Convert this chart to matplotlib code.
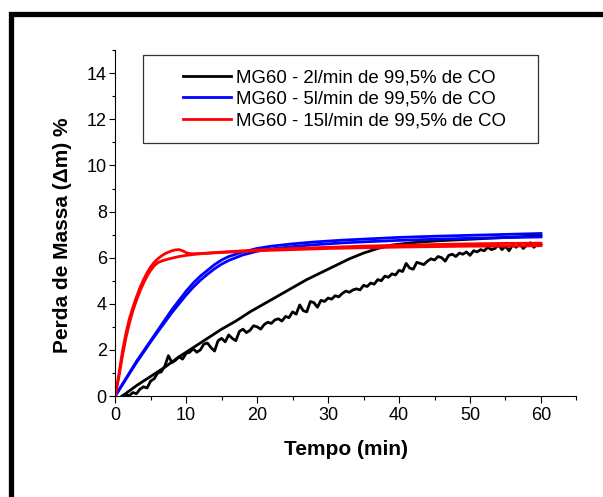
import matplotlib.pyplot as plt
from matplotlib.patches import Rectangle
from matplotlib.ticker import MultipleLocator
import numpy as np

plt.rcParams['font.family'] = ['Liberation Sans', 'DejaVu Sans']

# MG60 - 2 l/min: smooth run
t_2a = [1, 3, 5, 7, 9, 11, 13, 15, 17, 19, 21, 23, 25, 27, 29, 31, 33, 35, 37,
        39, 41, 43, 46, 50, 55, 60]
m_2a = [0.0, 0.45, 0.85, 1.25, 1.7, 2.1, 2.5, 2.9, 3.25, 3.65, 4.0, 4.35, 4.7,
        5.05, 5.35, 5.65, 5.95, 6.2, 6.4, 6.55, 6.62, 6.68, 6.74, 6.8, 6.88, 6.95]

# MG60 - 2 l/min: noisy run, sampled every 0.5 min from 1 to 60
t_2b = np.arange(1, 60.5, 0.5)
m_2b = [0.00, 0.05, 0.02, 0.15, 0.10, 0.30, 0.40, 0.35, 0.65, 0.75,
        1.00, 1.05, 1.30, 1.75, 1.45, 1.55, 1.70, 1.60, 1.85, 1.90,
        2.05, 1.90, 2.00, 2.25, 2.30, 2.10, 1.95, 2.40, 2.50, 2.35,
        2.65, 2.50, 2.40, 2.80, 2.90, 2.75, 2.85, 3.05, 3.00, 2.90,
        3.10, 3.20, 3.15, 3.30, 3.35, 3.25, 3.45, 3.40, 3.65, 3.55,
        3.95, 3.70, 3.65, 4.10, 4.05, 3.85, 4.15, 4.10, 4.25, 4.20,
        4.35, 4.30, 4.45, 4.55, 4.50, 4.60, 4.65, 4.60, 4.80, 4.75,
        4.90, 4.85, 5.05, 5.00, 5.20, 5.15, 5.30, 5.25, 5.45, 5.40,
        5.75, 5.55, 5.50, 5.80, 5.75, 5.70, 5.85, 5.95, 5.90, 6.05,
        6.00, 5.85, 6.10, 6.15, 6.05, 6.20, 6.15, 6.25, 6.10, 6.30,
        6.25, 6.35, 6.30, 6.45, 6.35, 6.40, 6.55, 6.35, 6.50, 6.30,
        6.55, 6.45, 6.60, 6.40, 6.55, 6.65, 6.45, 6.60, 6.55]

# MG60 - 5 l/min: two runs
t_5 = [0, 1, 2, 3, 4, 5, 6, 7, 8, 9, 10, 11, 12, 13, 14, 15, 16, 18, 20, 22,
       25, 28, 32, 36, 40, 45, 50, 55, 60]
m_5a = [0, 0.5, 1.0, 1.5, 1.95, 2.4, 2.85, 3.3, 3.75, 4.15, 4.55, 4.9, 5.2,
        5.45, 5.7, 5.9, 6.05, 6.25, 6.4, 6.5, 6.6, 6.68, 6.76, 6.82, 6.88,
        6.93, 6.97, 7.01, 7.05]
m_5b = [0, 0.48, 0.97, 1.45, 1.9, 2.35, 2.78, 3.2, 3.62, 4.0, 4.38, 4.72,
        5.02, 5.28, 5.52, 5.72, 5.88, 6.12, 6.28, 6.38, 6.48, 6.56, 6.64,
        6.7, 6.75, 6.8, 6.84, 6.87, 6.9]

# MG60 - 15 l/min: two runs
t_15a = [0, 0.5, 1, 1.5, 2, 2.5, 3, 3.5, 4, 4.5, 5, 5.5, 6, 6.5, 7, 7.5, 8,
         8.5, 9, 9.5, 10, 10.5, 11, 12, 14, 16, 18, 20, 25, 30, 35, 40, 45,
         50, 55, 60]
m_15a = [0, 0.9, 1.9, 2.7, 3.35, 3.85, 4.3, 4.7, 5.05, 5.35, 5.6, 5.8, 5.95,
         6.07, 6.17, 6.24, 6.3, 6.34, 6.35, 6.3, 6.22, 6.18, 6.17, 6.18, 6.22,
         6.26, 6.3, 6.33, 6.4, 6.45, 6.5, 6.54, 6.57, 6.6, 6.62, 6.63]
t_15b = [0, 0.5, 1, 1.5, 2, 2.5, 3, 3.5, 4, 4.5, 5, 5.5, 6, 6.5, 7, 8, 9, 10,
         11, 12, 14, 16, 18, 20, 25, 30, 35, 40, 45, 50, 55, 60]
m_15b = [0, 0.8, 1.7, 2.5, 3.15, 3.7, 4.15, 4.55, 4.9, 5.2, 5.45, 5.65, 5.78,
         5.85, 5.9, 5.98, 6.05, 6.1, 6.14, 6.17, 6.21, 6.24, 6.27, 6.3, 6.35,
         6.4, 6.43, 6.46, 6.48, 6.5, 6.5, 6.52]

labels = ['MG60 - 2l/min de 99,5% de CO',
          'MG60 - 5l/min de 99,5% de CO',
          'MG60 - 15l/min de 99,5% de CO']

fig = plt.figure(figsize=(6.03, 4.97), dpi=100)
ax = fig.add_axes([0.191, 0.2032, 0.765, 0.6958])

lw = 2.0
ax.plot(t_2a, m_2a, color='black', lw=lw, label=labels[0])
ax.plot(t_2b, m_2b, color='black', lw=lw)
ax.plot(t_5, m_5a, color='#0000FF', lw=lw, label=labels[1])
ax.plot(t_5, m_5b, color='#0000FF', lw=lw)
ax.plot(t_15a, m_15a, color='#FF0000', lw=lw, label=labels[2])
ax.plot(t_15b, m_15b, color='#FF0000', lw=lw)

ax.set_xlim(0, 65)
ax.set_ylim(0, 15)
ax.xaxis.set_major_locator(MultipleLocator(10))
ax.xaxis.set_minor_locator(MultipleLocator(5))
ax.yaxis.set_major_locator(MultipleLocator(2))
ax.yaxis.set_minor_locator(MultipleLocator(1))

for s in ['top', 'right']:
    ax.spines[s].set_visible(False)
for s in ['left', 'bottom']:
    ax.spines[s].set_linewidth(0.8)

ax.tick_params(axis='x', which='major', length=5, width=0.8, pad=3, labelsize=13)
ax.tick_params(axis='x', which='minor', length=2.8, width=0.8)
ax.tick_params(axis='y', which='major', length=4, width=0.8, pad=2, labelsize=13)
ax.tick_params(axis='y', which='minor', length=2.4, width=0.8)

ax.set_xlabel('Tempo (min)', fontsize=15, fontweight='bold')
ax.set_ylabel('Perda de Massa (\u0394m) %', fontsize=15, fontweight='bold')
ax.xaxis.set_label_coords(0.5, -0.128)
ax.yaxis.set_label_coords(-0.094, 0.465)

# legend box drawn separately so its size matches the original
ax.add_patch(Rectangle((0.060, 0.731), 0.856, 0.255, transform=ax.transAxes,
                       fill=False, edgecolor='#333333', lw=0.9, clip_on=False))
ax.legend(loc='upper left', bbox_to_anchor=(0.146, 0.945), frameon=False,
          fontsize=13.4, handlelength=2.6, handletextpad=0.28,
          labelspacing=0.25, borderpad=0, borderaxespad=0)

# thick outer frame (only left and top edges fall inside the image)
fig.add_artist(Rectangle((0.019, -0.2), 1.3, 0.9728 + 0.2,
                         transform=fig.transFigure, fill=False,
                         edgecolor='black', lw=3.8))

fig.savefig('out.png', dpi=100)
